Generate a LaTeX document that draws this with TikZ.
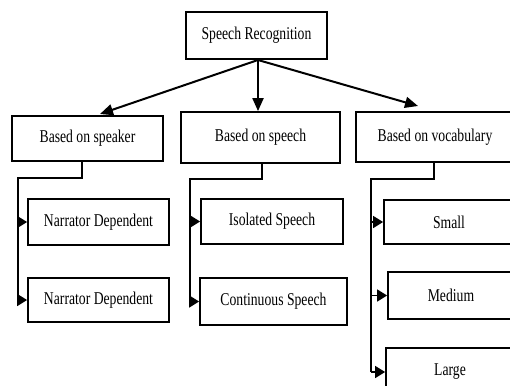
\documentclass[tikz,border=0pt]{standalone}
\usepackage{fontspec}
\setmainfont{Liberation Serif}[FakeStretch=0.76]
\usetikzlibrary{arrows.meta}
\begin{document}
\begin{tikzpicture}[x=1pt,y=-1pt,
  box/.style={draw=black,line width=1.8pt,fill=white,inner sep=0pt,
    font=\fontsize{18}{21}\selectfont},
  mainarr/.style={line width=2pt,-{Triangle[length=13pt,width=11pt]}},
  conn/.style={line width=1.6pt},
  tip/.style={line width=1.6pt,-{Triangle[length=10pt,width=12pt]}}]
\useasboundingbox (0,0) rectangle (510,385);
\clip (0,0) rectangle (510,385);
\fill[white] (0,0) rectangle (510,385);

\node[box,minimum width=141pt,minimum height=47pt] (sr) at (256.5,35.5) {Speech Recognition};

\node[box,minimum width=151pt,minimum height=45pt] (spk) at (87.5,138.5) {Based on speaker};
\node[box,minimum width=159pt,minimum height=51pt] (sph) at (260.5,137.5) {Based on speech};
\node[box,minimum width=158pt,minimum height=50pt] (voc) at (435,137) {Based on vocabulary};

\node[box,minimum width=141pt,minimum height=46pt] (nd1) at (98.5,222) {Narrator Dependent};
\node[box,minimum width=141pt,minimum height=44pt] (nd2) at (98.5,300) {Narrator Dependent};

\node[box,minimum width=142pt,minimum height=45pt] (iso) at (272,221.5) {Isolated Speech};
\node[box,minimum width=147pt,minimum height=47pt] (con) at (273.5,301.5) {Continuous Speech};

\node[box,minimum width=130pt,minimum height=44pt] (sml) at (449,222) {Small};
\node[box,minimum width=126pt,minimum height=47pt] (med) at (451,295.5) {Medium};
\node[box,minimum width=128pt,minimum height=48pt] (lrg) at (450,372) {Large};

% main arrows
\coordinate (o) at (258,60);
\coordinate (t1) at (100,114);
\coordinate (t3) at (418,106);
\draw[mainarr] (o) -- (t1);
\draw[mainarr] (o) -- (sph.north -| o);
\draw[mainarr] (o) -- (t3);

% column 1
\coordinate (b1) at (82,178);
\coordinate (v1) at (18,178);
\draw[conn] (spk.south -| b1) -- (b1) -- (v1) -- ([yshift=3pt]v1 |- nd2.west);
\draw[tip] (v1 |- nd1.west) -- (nd1.west);
\draw[tip] (v1 |- nd2.west) -- (nd2.west);

% column 2
\coordinate (b2) at (262,179);
\coordinate (v2) at (190,179);
\draw[conn] (sph.south -| b2) -- (b2) -- (v2) -- ([yshift=3pt]v2 |- con.west);
\draw[tip] (v2 |- iso.west) -- (iso.west);
\draw[tip] (v2 |- con.west) -- (con.west);

% column 3
\coordinate (b3) at (434,179);
\coordinate (v3) at (371,179);
\draw[conn] (voc.south -| b3) -- (b3) -- (v3) -- (v3 |- lrg.west);
\draw[tip] (v3 |- sml.west) -- (sml.west);
\draw[tip] (v3 |- med.west) -- (med.west);
\draw[tip] (v3 |- lrg.west) -- (lrg.west);
\end{tikzpicture}
\end{document}
